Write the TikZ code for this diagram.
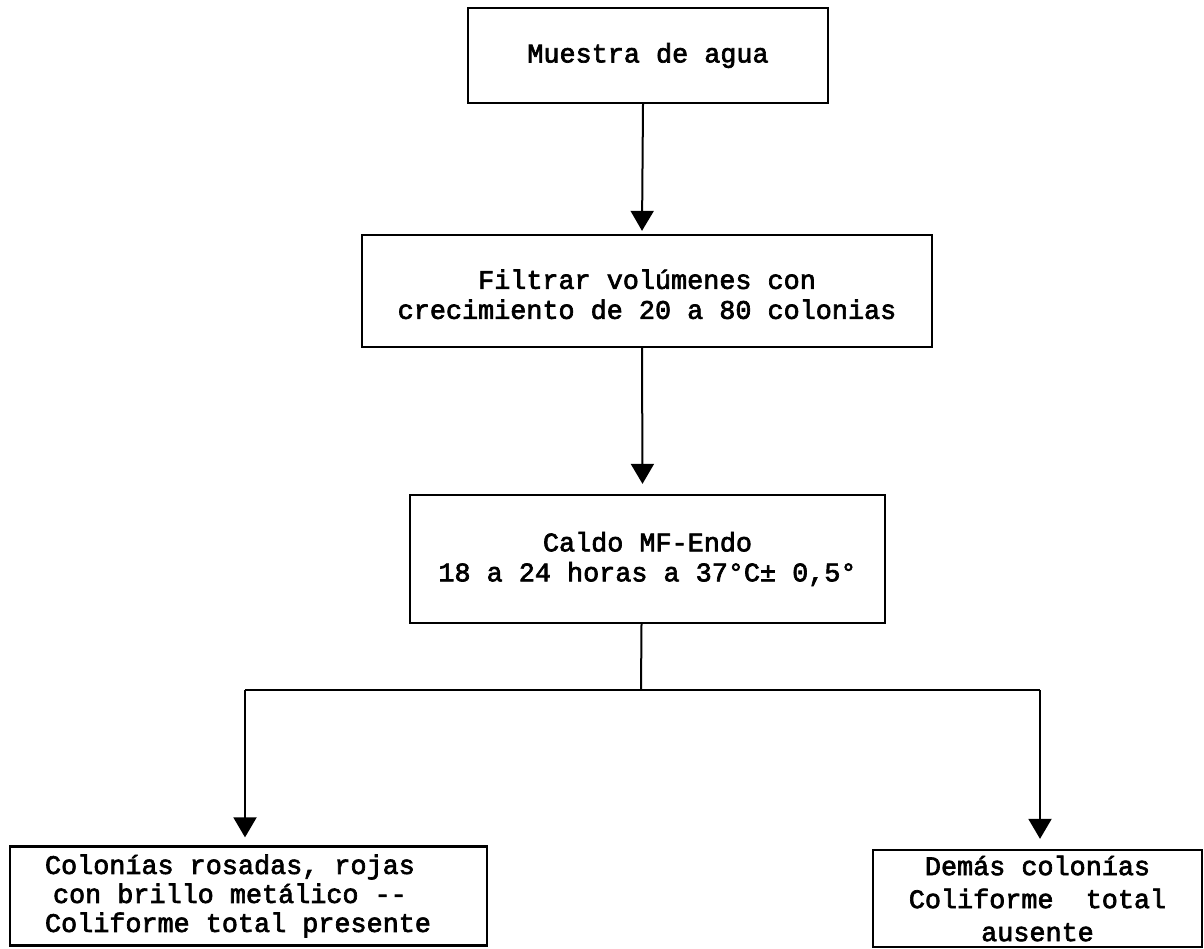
\documentclass[tikz,border=0pt]{standalone}
\usepackage{fontspec}
\setmainfont{Liberation Mono}[FakeBold=2.5]
\usetikzlibrary{arrows.meta}
\tikzset{
  box/.style={draw, line width=2.3pt, align=center, inner sep=0pt, font=\fontsize{26.8}{30}\selectfont},
  conn/.style={line width=2pt},
  arr/.style={conn, -{Triangle[width=23pt,length=20pt]}}
}
\begin{document}
\begin{tikzpicture}[x=1pt,y=-1pt]
\useasboundingbox (0,0) rectangle (1204,948);
\node[box, minimum width=360pt, minimum height=95pt] (b1) at (648,55.5) {Muestra de agua};
\node[box, minimum width=570pt, minimum height=112pt] (b2) at (647,291) {\rule{0pt}{26pt}Filtrar volúmenes con\\crecimiento de 20 a 80 colonias};
\node[box, minimum width=475pt, minimum height=128pt] (b3) at (647.5,559) {Caldo MF-Endo\\18 a 24 horas a 37°C± 0,5°};
\node[box, minimum width=477pt, minimum height=99pt, align=left, font=\fontsize{26.8}{29}\selectfont] (b4) at (248.5,896) {Colonías rosadas, rojas\\\hspace{8pt}con brillo metálico {-}{-}\\Coliforme total presente\rule{21pt}{0pt}};
\node[box, minimum width=329pt, minimum height=97pt, font=\fontsize{26.8}{33}\selectfont] (b5) at (1037.5,898.5) {Demás colonías\\Coliforme\ \ total\\ausente};
\coordinate (j) at (641,690);
\coordinate (jl) at (245,690);
\coordinate (jr) at (1040,690);
\draw[arr] ([xshift=-5pt]b1.south) -- ([xshift=-5pt,yshift=3pt]b2.north);
\draw[arr] ([xshift=-5pt]b2.south) -- ([xshift=-5pt,yshift=10pt]b3.north);
\draw[conn] ([xshift=-6pt]b3.south) -- (j);
\draw[conn] (jl) -- (jr);
\draw[arr] (jl) -- ([yshift=8pt]jl |- b4.north);
\draw[arr] (jr) -- ([yshift=10pt]jr |- b5.north);
\end{tikzpicture}
\end{document}
